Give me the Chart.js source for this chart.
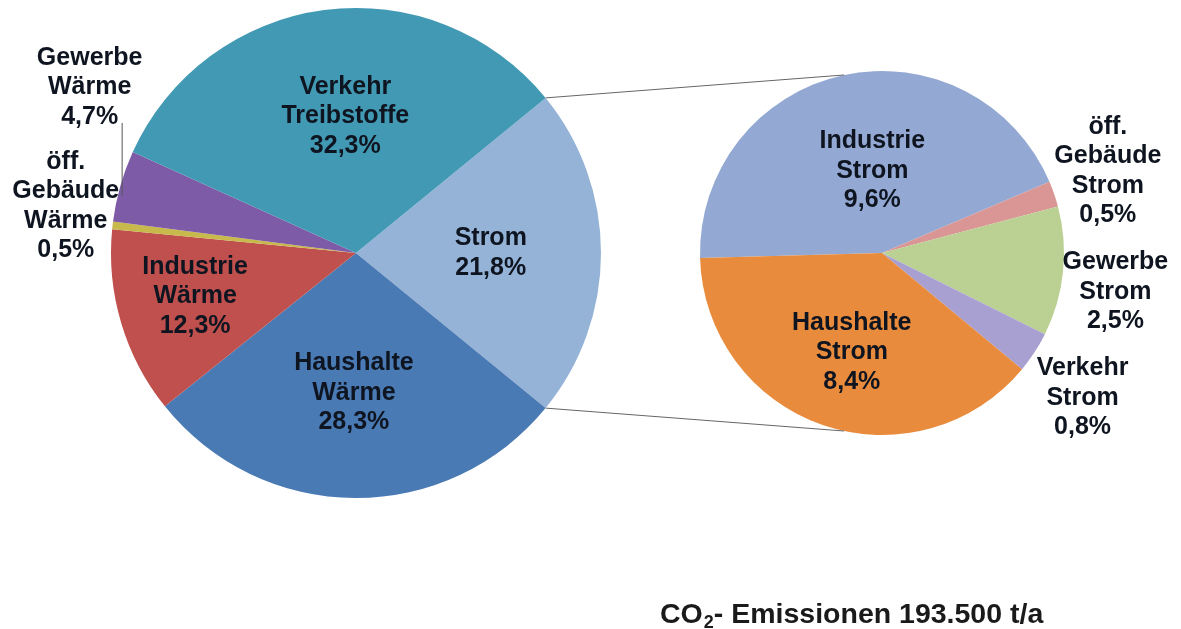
<!DOCTYPE html>
<html><head><meta charset="utf-8">
<script src="https://cdn.jsdelivr.net/npm/chart.js@4.4.0/dist/chart.umd.min.js"></script>
<style>
html,body{margin:0;padding:0;background:#fff;}
#wrap{position:relative;width:1181px;height:629px;overflow:hidden;}
canvas{position:absolute;left:0;top:0;}
</style></head><body>
<div id="wrap"><canvas id="c1" width="1181" height="629"></canvas><canvas id="c2" width="1181" height="629"></canvas></div>
<script>
// ---- data ----
const mainCategories = [["Strom"], ["Haushalte", "Wärme"], ["Industrie", "Wärme"], ["öff.", "Gebäude", "Wärme"], ["Gewerbe", "Wärme"], ["Verkehr", "Treibstoffe"]];
const mainValues = [21.8, 28.3, 12.3, 0.5, 4.7, 32.3];
const stromCategories = [["Industrie", "Strom"], ["öff.", "Gebäude", "Strom"], ["Gewerbe", "Strom"], ["Verkehr", "Strom"], ["Haushalte", "Strom"]];
const stromValues = [9.6, 0.5, 2.5, 0.8, 8.4];
const titleMain = "CO";
const titleSub = "2";
const titleRest = "- Emissionen 193.500 t/a";

// ---- style ----
const mainColors = ["#95B3D7", "#4A7AB4", "#C0504D", "#C8B94C", "#7E5BA6", "#4299B4"];
const stromColors = ["#93A9D3", "#D99694", "#BBD193", "#A9A0D2", "#E98B3C"];
// label placement: [angle offset from slice middle (deg), radius factor]
const mainLabelPlace = [[0, 0.55], [0.6, 0.57], [1.5, 0.68], [2.7, 1.20], [16, 1.28], [3, 0.56]];
const stromLabelPlace = [[5.6, 0.455], [-1, 1.32], [3.6, 1.30], [2.8, 1.36], [-2.1, 0.57]];
const FONT = "bold 25px 'Liberation Sans', Arial, sans-serif";
const LINE_H = 29.5;
const TEXT_COLOR = "#0f1520";

function fmt(v){ return v.toFixed(1).replace('.', ',') + '%'; }

function labelPlugin(cats, vals, place, leaderIdx){
  return {
    id: 'lbl',
    afterDatasetsDraw(chart){
      const ctx = chart.ctx;
      const meta = chart.getDatasetMeta(0);
      ctx.save();
      ctx.font = FONT;
      ctx.fillStyle = TEXT_COLOR;
      ctx.textAlign = 'center';
      ctx.textBaseline = 'middle';
      meta.data.forEach((el, i) => {
        const mid = (el.startAngle + el.endAngle) / 2 + place[i][0] * Math.PI / 180;
        const r = place[i][1] * el.outerRadius;
        const cx = el.x + Math.cos(mid) * r;
        const cy = el.y + Math.sin(mid) * r;
        const lines = cats[i].concat([fmt(vals[i])]);
        const y0 = cy - (lines.length - 1) * LINE_H / 2;
        lines.forEach((t, k) => ctx.fillText(t, cx, y0 + k * LINE_H));
        if (i === leaderIdx) {
          const lx = cx + 32;
          const ly0 = y0 + (lines.length - 1) * LINE_H + 6;
          const dx = lx - el.x;
          const ly1 = el.y - Math.sqrt(Math.max(0, el.outerRadius * el.outerRadius - dx * dx)) + 14;
          ctx.strokeStyle = '#555';
          ctx.lineWidth = 1;
          ctx.beginPath();
          ctx.moveTo(lx + 0.5, ly0);
          ctx.lineTo(lx + 0.5, ly1);
          ctx.stroke();
        }
      });
      ctx.restore();
    }
  };
}

const total = mainValues.reduce((a, b) => a + b, 0);
const mainRotation = 90 - mainValues[0] / total * 180;

const commonOpts = {
  responsive: false,
  animation: false,
  devicePixelRatio: 1,
  plugins: { legend: { display: false }, tooltip: { enabled: false }, title: { display: false } },
  events: []
};

const chart1 = new Chart(document.getElementById('c1'), {
  type: 'pie',
  data: { labels: mainCategories.map(c => c.join(' ')), datasets: [{ data: mainValues, backgroundColor: mainColors, borderWidth: 0 }] },
  options: Object.assign({}, commonOpts, {
    rotation: mainRotation,
    layout: { padding: { left: 111, right: 580, top: 8, bottom: 131 } }
  }),
  plugins: [labelPlugin(mainCategories, mainValues, mainLabelPlace, 4)]
});

const connectorPlugin = {
  id: 'conn',
  afterDraw(chart){
    const ctx = chart.ctx;
    const a = chart1.getDatasetMeta(0).data[0];
    const b = chart.getDatasetMeta(0).data[0];
    const off = 12 * Math.PI / 180;
    const p1 = [a.x + Math.cos(a.startAngle) * a.outerRadius, a.y + Math.sin(a.startAngle) * a.outerRadius];
    const p2 = [a.x + Math.cos(a.endAngle) * a.outerRadius, a.y + Math.sin(a.endAngle) * a.outerRadius];
    const q1 = [b.x + Math.cos(-Math.PI / 2 - off) * b.outerRadius, b.y + Math.sin(-Math.PI / 2 - off) * b.outerRadius];
    const q2 = [b.x + Math.cos(Math.PI / 2 + off) * b.outerRadius, b.y + Math.sin(Math.PI / 2 + off) * b.outerRadius];
    ctx.save();
    ctx.strokeStyle = '#666';
    ctx.lineWidth = 1;
    ctx.beginPath();
    ctx.moveTo(p1[0], p1[1]); ctx.lineTo(q1[0], q1[1]);
    ctx.moveTo(p2[0], p2[1]); ctx.lineTo(q2[0], q2[1]);
    ctx.stroke();
    // title
    ctx.fillStyle = '#1a1a1a';
    ctx.textAlign = 'left';
    ctx.textBaseline = 'alphabetic';
    let x = 660; const y = 623;
    ctx.font = "bold 28.5px 'Liberation Sans', Arial, sans-serif";
    ctx.fillText(titleMain, x, y); x += ctx.measureText(titleMain).width + 1;
    ctx.font = "bold 18px 'Liberation Sans', Arial, sans-serif";
    ctx.fillText(titleSub, x, y + 5); x += ctx.measureText(titleSub).width;
    ctx.font = "bold 28.5px 'Liberation Sans', Arial, sans-serif";
    ctx.fillText(titleRest, x, y);
    ctx.restore();
  }
};

const chart2 = new Chart(document.getElementById('c2'), {
  type: 'pie',
  data: { labels: stromCategories.map(c => c.join(' ')), datasets: [{ data: stromValues, backgroundColor: stromColors, borderWidth: 0 }] },
  options: Object.assign({}, commonOpts, {
    rotation: 268.4,
    layout: { padding: { left: 700, right: 117, top: 71, bottom: 194 } }
  }),
  plugins: [labelPlugin(stromCategories, stromValues, stromLabelPlace, -1), connectorPlugin]
});
</script>
</body></html>
